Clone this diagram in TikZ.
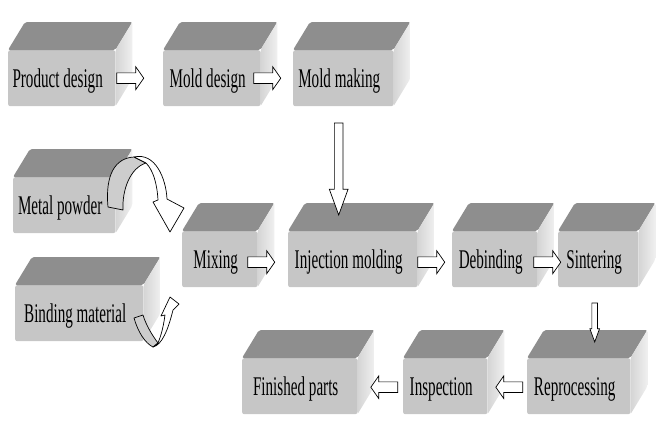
\documentclass[tikz,border=0pt]{standalone}
\usepackage{fontspec}
\setmainfont{Liberation Serif}[FakeStretch=0.56]
\usetikzlibrary{shapes.arrows}
\definecolor{topgray}{RGB}{142,142,142}
\definecolor{frontgray}{RGB}{198,198,198}
\definecolor{sidegray}{RGB}{212,212,212}
\definecolor{backgray}{RGB}{205,205,205}
\newcommand{\dpx}{17}
\newcommand{\dpy}{28}
\newcommand{\faces}[1]{%
  \fill[topface] (#1.north west) -- ++(\dpx,-\dpy) -- ([shift={(\dpx,-\dpy)}]#1.north east) -- (#1.north east) -- cycle;
  \shade[sideface] (#1.north east) -- ++(\dpx,-\dpy) -- ([shift={(\dpx,-\dpy)}]#1.south east) -- (#1.south east) -- cycle;
}

\begin{document}
\begin{tikzpicture}[x=1pt,y=-1pt,
  box/.style={rectangle, anchor=north west, minimum height=56pt, inner sep=0pt, fill=frontgray, rounded corners=2pt, font=\fontsize{27}{30}\selectfont, text height=19pt, text depth=0pt, execute at end node={\hspace*{8pt}}},
  topface/.style={fill=topgray, rounded corners=2pt},
  sideface/.style={left color=sidegray, right color=sidegray!35, rounded corners=2pt},
  rarrow/.style={single arrow, draw, fill=white, line width=0.7pt, inner sep=5pt, single arrow head extend=6pt, single arrow tip angle=110, minimum height=27pt},
  larrow/.style={rarrow, shape border rotate=180},
  darrow/.style={single arrow, draw, fill=white, line width=0.7pt, inner sep=4pt, single arrow head extend=5pt, single arrow tip angle=40, shape border rotate=270},
  curvearrow/.style={draw, line width=0.7pt, line join=round}]
  \useasboundingbox (0,0) rectangle (660,445);

  % First row
  \node[box, minimum width=107pt] (design) at (8,50) {Product design};
  \node[box, minimum width=97pt] (molddesign) at (163,50) {Mold design};
  \node[box, minimum width=100pt] (moldmaking) at (293,50) {Mold making};
  \faces{design}
  \faces{molddesign}
  \faces{moldmaking}

  % Raw materials
  \node[box, minimum width=102pt] (metal) at (13,177) {Metal powder};
  \node[box, minimum width=128pt] (binding) at (15,285) {Binding material};
  \faces{metal}
  \faces{binding}

  % Second row
  \node[box, minimum width=75pt] (mixing) at (182,231) {Mixing};
  \node[box, minimum width=129pt] (injection) at (288,231) {Injection molding};
  \node[box, minimum width=85pt] (debinding) at (452,231) {Debinding};
  \node[box, minimum width=80pt] (sintering) at (558,231) {Sintering};
  \faces{mixing}
  \faces{injection}
  \faces{debinding}
  \faces{sintering}

  % Third row
  \node[box, minimum width=115pt] (finished) at (242,358) {Finished parts};
  \node[box, minimum width=84pt] (inspection) at (403,358) {Inspection};
  \node[box, minimum width=103pt] (reprocessing) at (527,358) {Reprocessing};
  \faces{finished}
  \faces{inspection}
  \faces{reprocessing}

  % Block arrows
  \node[rarrow, anchor=tail] (design2mold) at ([xshift=1pt]design.east) {};
  \node[rarrow, anchor=tail] (mold2making) at ([xshift=-7pt]molddesign.east) {};
  \node[darrow, minimum height=92pt, anchor=tip] (making2inj) at ([xshift=-14pt,yshift=15pt]injection.north) {};
  \node[rarrow, anchor=tail] (mix2inj) at ([xshift=-10pt,yshift=-3pt]mixing.east) {};
  \node[rarrow, anchor=tail] (inj2deb) at ([yshift=-3pt]injection.east) {};
  \node[rarrow, anchor=tail] (deb2sin) at ([xshift=-4pt,yshift=-3pt]debinding.east) {};
  \node[darrow, inner sep=2.5pt, single arrow head extend=2pt, minimum height=39pt, anchor=tip] (sin2rep) at ([xshift=16pt,yshift=15pt]reprocessing.north) {};
  \node[larrow, anchor=tip] (rep2ins) at ([xshift=8pt,yshift=-1pt]inspection.east) {};
  \node[larrow, anchor=tip] (ins2fin) at ([xshift=13pt,yshift=-1pt]finished.east) {};

  % Curved arrows into mixing
  \path[curvearrow, fill=backgray] (108,207) .. controls (105,175) and (115,158) .. (134,157) -- (146,163)
    .. controls (130,168) and (122,190) .. (123,210) -- cycle;
  \path[curvearrow, fill=white] (134,157) .. controls (155,152) and (166,178) .. (167,199) -- (184,208) -- (170,232)
    -- (153,202) -- (158,200) .. controls (157,183) and (153,170) .. (146,163) -- cycle;
  \path[curvearrow, fill=backgray] (134,318) .. controls (138,332) and (145,343) .. (153,347) -- (158,343)
    .. controls (152,335) and (146,325) .. (143,315) -- cycle;
  \path[curvearrow, fill=white] (153,347) .. controls (162,345) and (168,330) .. (173,310) -- (179,304) -- (170,297)
    -- (161,316) -- (165,315) .. controls (163,330) and (160,338) .. (158,343) -- cycle;
\end{tikzpicture}
\end{document}
